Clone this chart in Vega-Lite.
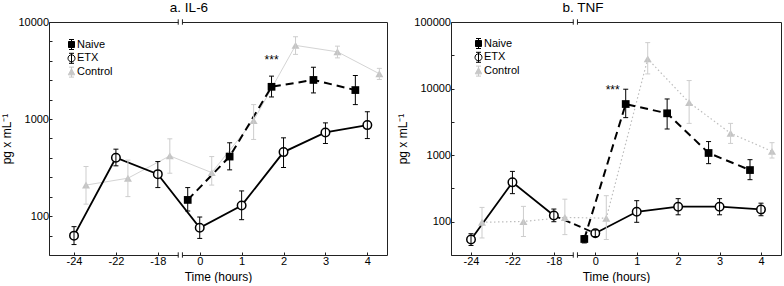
{
  "$schema": "https://vega.github.io/schema/vega-lite/v6.json",
  "background": "white",
  "padding": {"left": 0, "top": 0, "right": 0, "bottom": 0},
  "config": {
    "font": "Liberation Sans",
    "view": {"stroke": "#222", "strokeWidth": 1},
    "axis": {
      "grid": false, "domain": false, "tickSize": -3, "tickColor": "#222", "tickWidth": 1,
      "labelFont": "Liberation Sans", "labelFontSize": 11, "labelColor": "#000",
      "titleFont": "Liberation Sans", "titleFontSize": 12, "titleFontWeight": "normal", "titleColor": "#000"
    },
    "legend": {
      "orient": "none", "padding": 0, "rowPadding": -1.2,
      "labelFont": "Liberation Sans", "labelFontSize": 11, "labelColor": "#000", "labelOffset": 0,
      "symbolSize": 100, "symbolStrokeWidth": 1.2, "symbolOpacity": 1
    },
    "title": {"font": "Liberation Sans", "fontSize": 13.5, "fontWeight": "normal", "color": "#000", "anchor": "middle", "frame": "group", "offset": 2},
    "concat": {"spacing": 8}
  },
  "datasets": {
    "il6": [
      {"group": "ETX", "time": -24, "value": 63, "lo": 51, "hi": 78},
      {"group": "ETX", "time": -22, "value": 400, "lo": 330, "hi": 490},
      {"group": "ETX", "time": -18, "value": 271, "lo": 197, "hi": 365},
      {"group": "ETX", "time": 0, "value": 76, "lo": 59, "hi": 98},
      {"group": "ETX", "time": 1, "value": 129, "lo": 92, "hi": 182},
      {"group": "ETX", "time": 2, "value": 457, "lo": 317, "hi": 641},
      {"group": "ETX", "time": 3, "value": 728, "lo": 560, "hi": 914},
      {"group": "ETX", "time": 4, "value": 867, "lo": 630, "hi": 1190},
      {"group": "Naive", "time": 0, "value": 147, "lo": 113, "hi": 197},
      {"group": "Naive", "time": 1, "value": 411, "lo": 300, "hi": 570},
      {"group": "Naive", "time": 2, "value": 2150, "lo": 1690, "hi": 2770},
      {"group": "Naive", "time": 3, "value": 2530, "lo": 1860, "hi": 3420},
      {"group": "Naive", "time": 4, "value": 1990, "lo": 1410, "hi": 2810},
      {"group": "Control", "time": -24, "value": 209, "lo": 133, "hi": 325},
      {"group": "Control", "time": -22, "value": 246, "lo": 159, "hi": 378},
      {"group": "Control", "time": -18, "value": 418, "lo": 277, "hi": 626},
      {"group": "Control", "time": 0, "value": 281, "lo": 209, "hi": 411},
      {"group": "Control", "time": 1, "value": 968, "lo": 617, "hi": 1410},
      {"group": "Control", "time": 2, "value": 5740, "lo": 4640, "hi": 7050},
      {"group": "Control", "time": 3, "value": 4930, "lo": 4270, "hi": 5640},
      {"group": "Control", "time": 4, "value": 2930, "lo": 2560, "hi": 3330}
    ],
    "tnf": [
      {"group": "ETX", "time": -24, "value": 54, "lo": 44, "hi": 66},
      {"group": "ETX", "time": -22, "value": 390, "lo": 264, "hi": 570},
      {"group": "ETX", "time": -18, "value": 124, "lo": 100, "hi": 155},
      {"group": "ETX", "time": 0, "value": 67, "lo": 60, "hi": 75},
      {"group": "ETX", "time": 1, "value": 141, "lo": 98, "hi": 207},
      {"group": "ETX", "time": 2, "value": 168, "lo": 127, "hi": 222},
      {"group": "ETX", "time": 3, "value": 168, "lo": 127, "hi": 222},
      {"group": "ETX", "time": 4, "value": 153, "lo": 123, "hi": 190},
      {"group": "Naive", "time": 0, "value": 55, "lo": 48, "hi": 62},
      {"group": "Naive", "time": 1, "value": 5860, "lo": 3660, "hi": 9780},
      {"group": "Naive", "time": 2, "value": 4250, "lo": 2470, "hi": 6980},
      {"group": "Naive", "time": 3, "value": 1077, "lo": 745, "hi": 1600},
      {"group": "Naive", "time": 4, "value": 597, "lo": 428, "hi": 855},
      {"group": "Control", "time": -24, "value": 98, "lo": 57, "hi": 164},
      {"group": "Control", "time": -22, "value": 101, "lo": 60, "hi": 170},
      {"group": "Control", "time": -18, "value": 116, "lo": 64, "hi": 218},
      {"group": "Control", "time": 0, "value": 113, "lo": 54, "hi": 246},
      {"group": "Control", "time": 1, "value": 27900, "lo": 16600, "hi": 49000},
      {"group": "Control", "time": 2, "value": 6170, "lo": 3000, "hi": 13200},
      {"group": "Control", "time": 3, "value": 2130, "lo": 1500, "hi": 3000},
      {"group": "Control", "time": 4, "value": 1140, "lo": 905, "hi": 1540}
    ],
    "il6Note": [{"group": "Naive", "time": 2, "value": 3730, "note": "***"}],
    "tnfNote": [{"group": "Naive", "time": 1, "value": 8240, "note": "***"}],
    "axisBreak": [{"kind": "break"}]
  },
  "hconcat": [
    {
      "title": {"text": "a. IL-6", "dx": -29},
      "width": 338,
      "height": 233,
      "layer": [
        {
          "data": {"name": "il6"},
          "encoding": {
            "x": {"field": "time", "type": "ordinal", "scale": {"type": "point", "padding": 0.533, "align": 0.56},
                  "axis": {"title": "Time (hours)", "labelAngle": 0, "labelPadding": 3.5, "titlePadding": 5}},
            "xOffset": {"field": "group", "type": "nominal", "scale": {"type": "point", "padding": 0, "domain": ["Naive", "ETX", "Control"], "range": [-12, 12]}},
            "y": {"field": "value", "type": "quantitative", "scale": {"type": "log", "domain": [39.81, 10000], "nice": false},
                  "axis": {"title": "pg x mL⁻¹", "values": [39.81, 63.1, 100, 158.5, 251.2, 398.1, 631, 1000, 1585, 2512, 3981, 6310, 10000],
                           "labelExpr": "(datum.value == 100 || datum.value == 1000 || datum.value == 10000) ? format(datum.value, 'd') : ''",
                           "labelPadding": 3.5, "titlePadding": 4}}
          },
          "layer": [
            {"transform": [{"filter": "datum.group === 'Control'"}], "mark": {"type": "line", "color": "#d4d4d4", "strokeWidth": 1}},
            {"transform": [{"filter": "datum.group === 'ETX'"}], "mark": {"type": "line", "color": "#000", "strokeWidth": 1.8}},
            {"transform": [{"filter": "datum.group === 'Naive'"}], "mark": {"type": "line", "color": "#000", "strokeWidth": 2, "strokeDash": [8, 5]}},
            {"transform": [{"filter": "datum.group === 'Control'"}], "mark": {"type": "point", "shape": "triangle-up", "filled": true, "color": "#c4c4c4", "opacity": 1, "size": 64}},
            {"transform": [{"filter": "datum.group === 'ETX'"}], "mark": {"type": "point", "shape": "circle", "fill": "#fff", "stroke": "#000", "strokeWidth": 1.5, "opacity": 1, "size": 72}},
            {"transform": [{"filter": "datum.group === 'Naive'"}], "mark": {"type": "point", "shape": "square", "filled": true, "color": "#000", "opacity": 1, "size": 60}},
            {
              "mark": {"type": "point", "filled": true, "opacity": 0, "size": 60},
              "encoding": {
                "shape": {"field": "group", "type": "nominal",
                  "scale": {"domain": ["Naive", "ETX", "Control"], "range": ["M-0.6,-0.6H0.6V0.6H-0.6Z M0,-1V1 M-0.5,-1H0.5 M-0.5,1H0.5", "M0.7,0A0.7,0.7,0,1,1,-0.7,0A0.7,0.7,0,1,1,0.7,0Z M0,-1V1 M-0.5,-1H0.5 M-0.5,1H0.5", "M0,-0.65L0.65,0.55L-0.65,0.55Z M0,-1V1 M-0.5,-1H0.5 M-0.5,1H0.5"]},
                  "legend": {"title": null, "legendX": 17, "legendY": 17}},
                "fill": {"field": "group", "type": "nominal", "scale": {"domain": ["Naive", "ETX", "Control"], "range": ["#000", "#fff", "#c8c8c8"]},
                  "legend": {"title": null, "legendX": 17, "legendY": 17}},
                "stroke": {"field": "group", "type": "nominal", "scale": {"domain": ["Naive", "ETX", "Control"], "range": ["#000", "#000", "#c8c8c8"]},
                  "legend": {"title": null, "legendX": 17, "legendY": 17}}
              }
            },
            {
              "mark": {"type": "rule"},
              "encoding": {
                "y": {"field": "lo", "type": "quantitative"}, "y2": {"field": "hi"},
                "color": {"field": "group", "type": "nominal", "scale": {"domain": ["Naive", "ETX", "Control"], "range": ["#000", "#000", "#cdcdcd"]}, "legend": null},
                "strokeWidth": {"field": "group", "type": "nominal", "scale": {"domain": ["Naive", "ETX", "Control"], "range": [1, 1, 1.8]}, "legend": null}
              }
            },
            {
              "mark": {"type": "tick", "size": 5, "thickness": 1, "opacity": 1},
              "encoding": {"y": {"field": "lo", "type": "quantitative"}, "color": {"field": "group", "type": "nominal", "legend": null}}
            },
            {
              "mark": {"type": "tick", "size": 5, "thickness": 1, "opacity": 1},
              "encoding": {"y": {"field": "hi", "type": "quantitative"}, "color": {"field": "group", "type": "nominal", "legend": null}}
            },
            {
              "data": {"name": "il6Note"},
              "mark": {"type": "text", "fontSize": 12, "align": "center", "baseline": "alphabetic", "color": "#000"},
              "encoding": {"text": {"field": "note"}}
            }
          ]
        },
        {
          "data": {"name": "axisBreak"},
          "encoding": {"x": {"datum": -18, "type": "ordinal"}},
          "layer": [
            {"mark": {"type": "point", "shape": "square", "size": 14, "filled": true, "color": "#fff", "opacity": 1, "strokeWidth": 0, "xOffset": 22.5}, "encoding": {"y": {"datum": 10000, "type": "quantitative"}}},
            {"mark": {"type": "point", "shape": "M-0.7,-0.9V0.9M0.7,-0.9V0.9", "size": 36, "filled": false, "color": "#222", "opacity": 1, "strokeWidth": 1, "xOffset": 22.5}, "encoding": {"y": {"datum": 10000, "type": "quantitative"}}},
            {"mark": {"type": "point", "shape": "square", "size": 14, "filled": true, "color": "#fff", "opacity": 1, "strokeWidth": 0, "xOffset": 22.5}, "encoding": {"y": {"datum": 39.81, "type": "quantitative"}}},
            {"mark": {"type": "point", "shape": "M-0.7,-0.9V0.9M0.7,-0.9V0.9", "size": 36, "filled": false, "color": "#222", "opacity": 1, "strokeWidth": 1, "xOffset": 22.5}, "encoding": {"y": {"datum": 39.81, "type": "quantitative"}}}
          ]
        }
      ]
    },
    {
      "title": {"text": "b. TNF", "dx": -33},
      "width": 330,
      "height": 233,
      "layer": [
        {
          "data": {"name": "tnf"},
          "encoding": {
            "x": {"field": "time", "type": "ordinal", "scale": {"type": "point", "padding": 0.483, "align": 0.5},
                  "axis": {"title": "Time (hours)", "labelAngle": 0, "labelPadding": 3.5, "titlePadding": 5}},
            "xOffset": {"field": "group", "type": "nominal", "scale": {"type": "point", "padding": 0, "domain": ["Naive", "ETX", "Control"], "range": [-11, 11]}},
            "y": {"field": "value", "type": "quantitative", "scale": {"type": "log", "domain": [31.62, 100000], "nice": false},
                  "axis": {"title": "pg x mL⁻¹", "values": [31.62, 100, 316.2, 1000, 3162, 10000, 31623, 100000],
                           "labelExpr": "(datum.value == 100 || datum.value == 1000 || datum.value == 10000 || datum.value == 100000) ? format(datum.value, 'd') : ''",
                           "labelPadding": 3.5, "titlePadding": 4}}
          },
          "layer": [
            {"transform": [{"filter": "datum.group === 'Control'"}], "mark": {"type": "line", "color": "#bdbdbd", "strokeWidth": 1.2, "strokeDash": [1.5, 2.5]}},
            {"transform": [{"filter": "datum.group === 'ETX' && datum.time <= -18"}], "mark": {"type": "line", "color": "#000", "strokeWidth": 1.8}},
            {"transform": [{"filter": "datum.group === 'ETX' && (datum.time == -18 || datum.time == 0)"}], "mark": {"type": "line", "color": "#000", "strokeWidth": 1.8, "strokeDash": [7, 4]}},
            {"transform": [{"filter": "datum.group === 'ETX' && datum.time >= 0"}], "mark": {"type": "line", "color": "#000", "strokeWidth": 1.8}},
            {"transform": [{"filter": "datum.group === 'Naive'"}], "mark": {"type": "line", "color": "#000", "strokeWidth": 2, "strokeDash": [8, 5]}},
            {"transform": [{"filter": "datum.group === 'Control'"}], "mark": {"type": "point", "shape": "triangle-up", "filled": true, "color": "#c4c4c4", "opacity": 1, "size": 64}},
            {"transform": [{"filter": "datum.group === 'ETX'"}], "mark": {"type": "point", "shape": "circle", "fill": "#fff", "stroke": "#000", "strokeWidth": 1.5, "opacity": 1, "size": 72}},
            {"transform": [{"filter": "datum.group === 'Naive'"}], "mark": {"type": "point", "shape": "square", "filled": true, "color": "#000", "opacity": 1, "size": 60}},
            {
              "mark": {"type": "point", "filled": true, "opacity": 0, "size": 60},
              "encoding": {
                "shape": {"field": "group", "type": "nominal",
                  "scale": {"domain": ["Naive", "ETX", "Control"], "range": ["M-0.6,-0.6H0.6V0.6H-0.6Z M0,-1V1 M-0.5,-1H0.5 M-0.5,1H0.5", "M0.7,0A0.7,0.7,0,1,1,-0.7,0A0.7,0.7,0,1,1,0.7,0Z M0,-1V1 M-0.5,-1H0.5 M-0.5,1H0.5", "M0,-0.65L0.65,0.55L-0.65,0.55Z M0,-1V1 M-0.5,-1H0.5 M-0.5,1H0.5"]},
                  "legend": {"title": null, "legendX": 22, "legendY": 16}},
                "fill": {"field": "group", "type": "nominal", "scale": {"domain": ["Naive", "ETX", "Control"], "range": ["#000", "#fff", "#c8c8c8"]},
                  "legend": {"title": null, "legendX": 22, "legendY": 16}},
                "stroke": {"field": "group", "type": "nominal", "scale": {"domain": ["Naive", "ETX", "Control"], "range": ["#000", "#000", "#c8c8c8"]},
                  "legend": {"title": null, "legendX": 22, "legendY": 16}}
              }
            },
            {
              "mark": {"type": "rule"},
              "encoding": {
                "y": {"field": "lo", "type": "quantitative"}, "y2": {"field": "hi"},
                "color": {"field": "group", "type": "nominal", "scale": {"domain": ["Naive", "ETX", "Control"], "range": ["#000", "#000", "#cdcdcd"]}, "legend": null},
                "strokeWidth": {"field": "group", "type": "nominal", "scale": {"domain": ["Naive", "ETX", "Control"], "range": [1, 1, 1.8]}, "legend": null}
              }
            },
            {
              "mark": {"type": "tick", "size": 5, "thickness": 1, "opacity": 1},
              "encoding": {"y": {"field": "lo", "type": "quantitative"}, "color": {"field": "group", "type": "nominal", "legend": null}}
            },
            {
              "mark": {"type": "tick", "size": 5, "thickness": 1, "opacity": 1},
              "encoding": {"y": {"field": "hi", "type": "quantitative"}, "color": {"field": "group", "type": "nominal", "legend": null}}
            },
            {
              "data": {"name": "tnfNote"},
              "mark": {"type": "text", "fontSize": 12, "align": "right", "dx": -6, "baseline": "alphabetic", "color": "#000"},
              "encoding": {"text": {"field": "note"}}
            }
          ]
        },
        {
          "data": {"name": "axisBreak"},
          "encoding": {"x": {"datum": -18, "type": "ordinal"}},
          "layer": [
            {"mark": {"type": "point", "shape": "square", "size": 14, "filled": true, "color": "#fff", "opacity": 1, "strokeWidth": 0, "xOffset": 21.5}, "encoding": {"y": {"datum": 100000, "type": "quantitative"}}},
            {"mark": {"type": "point", "shape": "M-0.7,-0.9V0.9M0.7,-0.9V0.9", "size": 36, "filled": false, "color": "#222", "opacity": 1, "strokeWidth": 1, "xOffset": 21.5}, "encoding": {"y": {"datum": 100000, "type": "quantitative"}}},
            {"mark": {"type": "point", "shape": "square", "size": 14, "filled": true, "color": "#fff", "opacity": 1, "strokeWidth": 0, "xOffset": 21.5}, "encoding": {"y": {"datum": 31.62, "type": "quantitative"}}},
            {"mark": {"type": "point", "shape": "M-0.7,-0.9V0.9M0.7,-0.9V0.9", "size": 36, "filled": false, "color": "#222", "opacity": 1, "strokeWidth": 1, "xOffset": 21.5}, "encoding": {"y": {"datum": 31.62, "type": "quantitative"}}}
          ]
        }
      ]
    }
  ],
  "resolve": {
    "scale": {"x": "independent", "y": "independent", "xOffset": "independent", "shape": "independent", "fill": "independent", "stroke": "independent", "color": "independent", "strokeWidth": "independent"}
  }
}
